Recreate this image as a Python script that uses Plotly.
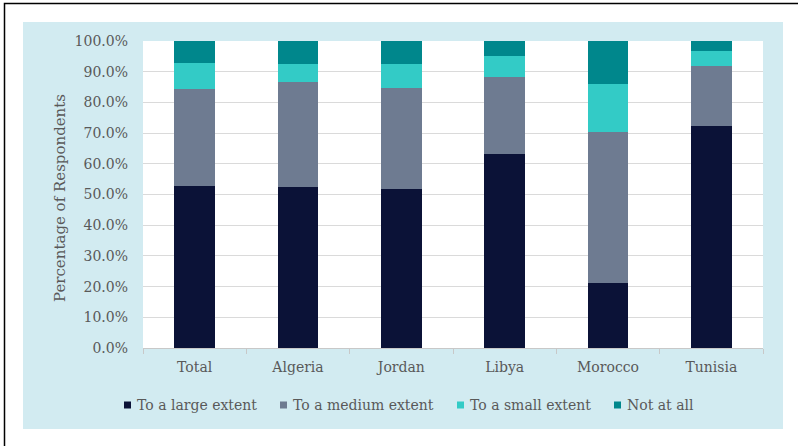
import plotly.graph_objects as go

# Survey responses by country (percentage of respondents)
countries = ["Total", "Algeria", "Jordan", "Libya", "Morocco", "Tunisia"]
large_extent = [52.8, 52.5, 51.8, 63.2, 21.3, 72.4]
medium_extent = [31.6, 34.2, 32.8, 25.0, 49.2, 19.4]
small_extent = [8.4, 5.9, 7.8, 6.9, 15.5, 4.8]
not_at_all = [7.2, 7.4, 7.6, 4.9, 14.0, 3.4]

series_names = ["To a large extent", "To a medium extent", "To a small extent", "Not at all"]
series_values = [large_extent, medium_extent, small_extent, not_at_all]
series_colors = ["#0B1237", "#6E7B91", "#33CBC6", "#00878C"]

W, H = 798, 446
L, R, T, B = 143, 35, 41, 98
pw, ph = W - L - R, H - T - B


def px_x(x):
    return (x - L) / pw


def px_y(y):
    return (H - B - y) / ph


font_family = "DejaVu Serif"
grey = "#595959"

fig = go.Figure()
for name, vals, color in zip(series_names, series_values, series_colors):
    fig.add_trace(go.Bar(
        name=name, x=countries, y=vals, marker_color=color,
        marker_line_width=0, width=0.395, showlegend=False,
    ))

shapes = [
    # light blue chart panel
    dict(type="rect", xref="paper", yref="paper", layer="below",
         x0=px_x(23), x1=px_x(783), y0=px_y(429), y1=px_y(22),
         fillcolor="#D2EBF1", line=dict(width=0)),
    # white plotting area
    dict(type="rect", xref="paper", yref="paper", layer="below",
         x0=0, x1=1, y0=0, y1=1,
         fillcolor="white", line=dict(width=0)),
    # outer frame
    dict(type="rect", xref="paper", yref="paper", layer="above",
         x0=px_x(4.5), x1=px_x(805), y0=px_y(460), y1=px_y(3.5),
         fillcolor="rgba(0,0,0,0)", line=dict(color="black", width=1.5)),
]

annotations = [
    dict(text="Percentage of Respondents", xref="paper", yref="paper",
         x=px_x(60), y=px_y(198), textangle=-90, showarrow=False,
         xanchor="center", yanchor="middle",
         font=dict(size=15, color=grey, family=font_family)),
]

# Legend row below the axis: small colour square followed by the series name
legend_cy = 405
legend_sq_x = [124, 280, 457, 614]
for sx, name, color in zip(legend_sq_x, series_names, series_colors):
    shapes.append(dict(
        type="rect", xref="paper", yref="paper", layer="above",
        x0=px_x(sx), x1=px_x(sx + 7),
        y0=px_y(legend_cy + 3.5), y1=px_y(legend_cy - 3.5),
        fillcolor=color, line=dict(width=0),
    ))
    annotations.append(dict(
        text=name, xref="paper", yref="paper",
        x=px_x(sx + 11), y=px_y(legend_cy), showarrow=False,
        xanchor="left", yanchor="middle",
        font=dict(size=14, color=grey, family=font_family),
    ))

fig.update_layout(
    barmode="stack",
    width=W, height=H,
    margin=dict(l=L, r=R, t=T, b=B),
    paper_bgcolor="white",
    plot_bgcolor="white",
    font=dict(family=font_family, color=grey, size=14),
    showlegend=False,
    xaxis=dict(
        showgrid=False, showline=True, linecolor="#C8C8C8", linewidth=1,
        ticks="outside", tickson="boundaries", ticklen=5, tickcolor="#C8C8C8",
        tickfont=dict(size=14, color=grey),
        ticklabelstandoff=6,
    ),
    yaxis=dict(
        range=[0, 100], dtick=10, tickformat=".1f", ticksuffix="%",
        showgrid=True, gridcolor="#DADADA", gridwidth=1,
        zeroline=False, showline=False,
        tickfont=dict(size=14, color=grey),
        ticklabelstandoff=14,
    ),
    shapes=shapes,
    annotations=annotations,
)

fig.write_html("out.html")
